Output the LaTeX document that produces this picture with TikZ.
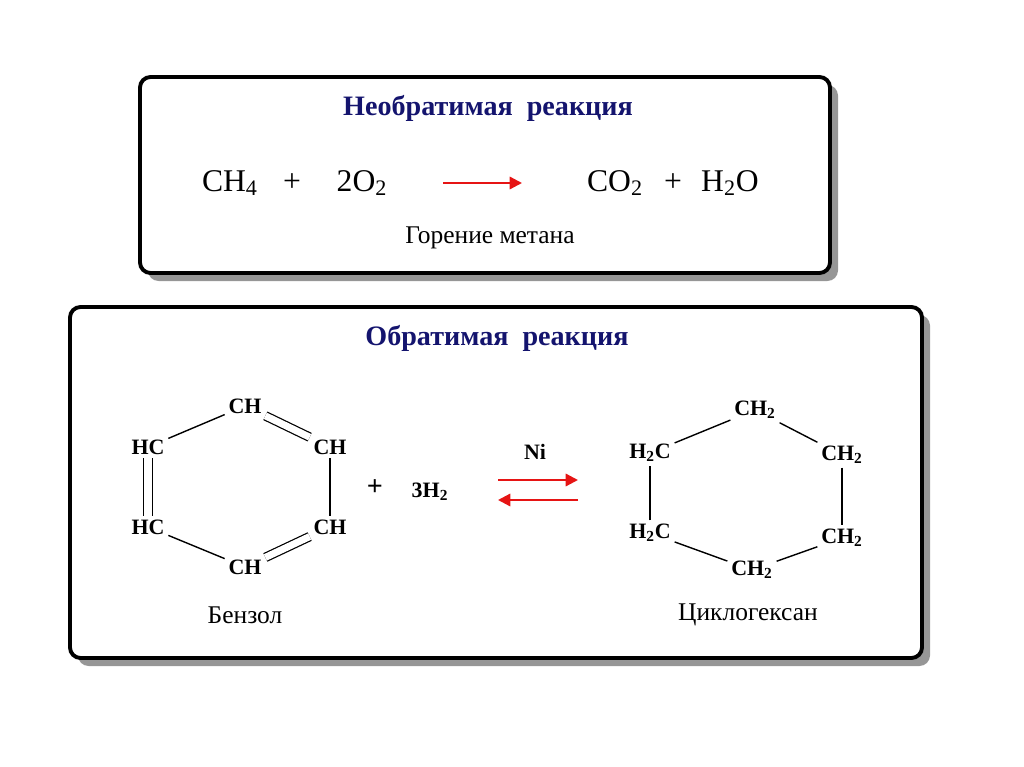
\documentclass[tikz,border=0pt]{standalone}
\usepackage{fontspec}
\setmainfont{Liberation Serif}
\usetikzlibrary{arrows.meta}
\definecolor{navy}{RGB}{20,20,110}
\definecolor{shade}{RGB}{150,150,150}
\definecolor{arrowred}{RGB}{230,20,20}
\newcommand{\sub}[1]{\textsubscript{#1}}
\begin{document}
\begin{tikzpicture}[x=0.02cm,y=-0.02cm,
frame/.style={draw=black, line width=2.2pt, rounded corners=6pt, fill=white},
shadowbox/.style={fill=shade, rounded corners=6pt},
title/.style={font=\fontsize{16}{18}\selectfont\bfseries, text=navy},
formula/.style={font=\fontsize{18}{20}\selectfont, inner sep=1pt},
caption/.style={font=\fontsize{14.5}{16}\selectfont},
atom/.style={font=\fontsize{12.5}{14}\selectfont\bfseries, inner sep=2pt},
bond/.style={line width=0.8pt},
dbond/.style={double, double distance=4pt, line width=0.7pt},
react/.style={draw=arrowred, line width=1.3pt, -{Triangle[length=7pt,width=7pt]}},
]
\useasboundingbox (0,0) rectangle (1024,767);
%Boxes
\fill[shadowbox] (148,85) rectangle (838,281);
\draw[frame] (140,77) rectangle (830,273);
\fill[shadowbox] (78,315) rectangle (930,666);
\draw[frame] (70,307) rectangle (922,658);

%Irreversible reaction
\node[title]   (title1)  at (488,108) {Необратимая\ \ реакция};
\node[formula] (ch4)     at (230,183) {CH\sub{4}};
\node[formula] (plus1)   at (292,183) {+};
\node[formula] (oxygen)  at (362,183) {2O\sub{2}};
\node[formula] (co2)     at (615,183) {CO\sub{2}};
\node[formula] (plus2)   at (673,183) {+};
\node[formula] (water)   at (730,183) {H\sub{2}O};
\node[caption] (burn)    at (490,238) {Горение метана};
\coordinate (a1) at (443,183);
\coordinate (a2) at (522,183);
\draw[react] (a1) -- (a2);

%Reversible reaction
\node[title]   (title2)  at (497,338) {Обратимая\ \ реакция};

%Benzene
\node[atom] (b1) at (245,406) {CH};
\node[atom] (b2) at (330,447) {CH};
\node[atom] (b3) at (330,527) {CH};
\node[atom] (b4) at (245,567) {CH};
\node[atom] (b5) at (148,527) {HC};
\node[atom] (b6) at (148,447) {HC};
\draw[bond]  (b1) -- (b6);
\draw[dbond] (b1) -- (b2);
\draw[bond]  (b2) -- (b3);
\draw[dbond] (b3) -- (b4);
\draw[bond]  (b4) -- (b5);
\draw[dbond] (b5) -- (b6);
\node[caption] (benzene) at (245,615) {Бензол};

\node[atom, font=\fontsize{16}{18}\selectfont\bfseries] (plus3) at (375,488) {+};
\node[atom] (h2)    at (430,492) {3H\sub{2}};
\node[atom] (ni)    at (535,452) {Ni};
\coordinate (f1) at (498,480);
\coordinate (f2) at (578,480);
\coordinate (r1) at (578,500);
\coordinate (r2) at (498,500);
\draw[react] (f1) -- (f2);
\draw[react] (r1) -- (r2);

%Cyclohexane
\node[atom] (c1) at (755,410) {CH\sub{2}};
\node[atom] (c2) at (842,455) {CH\sub{2}};
\node[atom] (c3) at (842,538) {CH\sub{2}};
\node[atom] (c4) at (752,570) {CH\sub{2}};
\node[atom] (c5) at (650,533) {H\sub{2}C};
\node[atom] (c6) at (650,453) {H\sub{2}C};
\draw[bond] (c1) -- (c2);
\draw[bond] (c2) -- (c3);
\draw[bond] (c3) -- (c4);
\draw[bond] (c4) -- (c5);
\draw[bond] (c5) -- (c6);
\draw[bond] (c6) -- (c1);
\node[caption] (hexane) at (748,615) {Циклогексан};
\end{tikzpicture}
\end{document}
